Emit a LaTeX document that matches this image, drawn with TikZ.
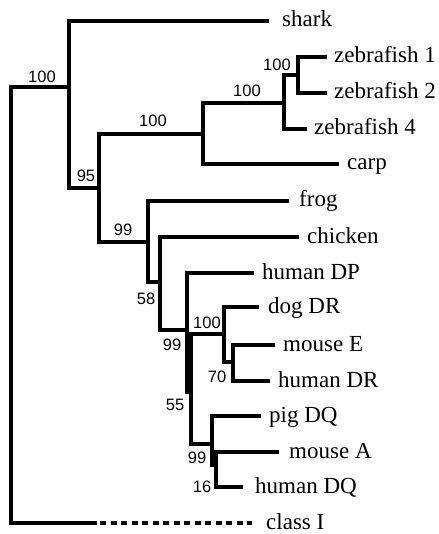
\documentclass[tikz,border=0pt]{standalone}
\usepackage{fontspec}
\setmainfont{Liberation Serif}
\newfontfamily\supportfont{Liberation Sans}
\begin{document}
\begin{tikzpicture}[x=1pt,y=-1pt,
  branch/.style={line width=3.2pt,line cap=rect,line join=miter},
  taxon/.style={anchor=base west,inner sep=0pt,font=\fontsize{23}{27}\selectfont},
  support/.style={inner sep=0pt,font=\supportfont\fontsize{16.5}{18}\selectfont}]
\useasboundingbox (0,0) rectangle (438,534);

% internal nodes: x of the vertical bar, y of the branch leading into it
\coordinate (R) at (11,87);
\coordinate (A) at (69,87);
\coordinate (B) at (99,188);
\coordinate (C) at (203,134);
\coordinate (D) at (284,103);
\coordinate (E) at (298,75);
\coordinate (F) at (148,242);
\coordinate (G) at (160,282);
\coordinate (H) at (187,330);
\coordinate (I) at (191,392);
\coordinate (J) at (224,334);
\coordinate (K) at (233,362);
\coordinate (L) at (212,444);
\coordinate (M) at (216,465);

% tips of the terminal branches
\coordinate (tShark) at (267,21);
\coordinate (tZ1) at (325,57);
\coordinate (tZ2) at (325,93);
\coordinate (tZ4) at (305,129);
\coordinate (tCarp) at (337,164);
\coordinate (tFrog) at (287,201);
\coordinate (tChick) at (297,237);
\coordinate (tHDP) at (252,273);
\coordinate (tDog) at (257,307);
\coordinate (tMsE) at (273,345);
\coordinate (tHDR) at (268,381);
\coordinate (tPig) at (259,416);
\coordinate (tMsA) at (277,452);
\coordinate (tHDQ) at (241,487);
\coordinate (cSolid) at (95,523);
\coordinate (tClass) at (252,523);

% taxon labels
\node[taxon] (shark) at (282,27) {shark};
\node[taxon] (z1) at (334,63) {zebrafish 1};
\node[taxon] (z2) at (334,99) {zebrafish 2};
\node[taxon] (z4) at (314,135) {zebrafish 4};
\node[taxon] (carp) at (347,170) {carp};
\node[taxon] (frog) at (299,207) {frog};
\node[taxon] (chick) at (307,243) {chicken};
\node[taxon] (hdp) at (262,279) {human DP};
\node[taxon] (dog) at (268,313) {dog DR};
\node[taxon] (mse) at (283,351) {mouse E};
\node[taxon] (hdr) at (278,387) {human DR};
\node[taxon] (pig) at (269,422) {pig DQ};
\node[taxon] (msa) at (289,458) {mouse A};
\node[taxon] (hdq) at (255,493) {human DQ};
\node[taxon] (cls) at (266,529) {class I};

% branches
\draw[branch] (R) -- (A);
\draw[branch] (R) |- (cSolid);
\draw[branch,line cap=butt,dash pattern=on 6pt off 4.5pt] (cSolid) ++(5,0) -- (tClass);
\draw[branch] (A) |- (tShark);
\draw[branch] (A) |- (B);
\draw[branch] (B) |- (C);
\draw[branch] (B) |- (F);
\draw[branch] (C) |- (D);
\draw[branch] (C) |- (tCarp);
\draw[branch] (D) |- (E);
\draw[branch] (D) |- (tZ4);
\draw[branch] (E) |- (tZ1);
\draw[branch] (E) |- (tZ2);
\draw[branch] (F) |- (tFrog);
\draw[branch] (F) |- (G);
\draw[branch] (G) |- (tChick);
\draw[branch] (G) |- (H);
\draw[branch] (H) |- (tHDP);
\draw[branch] (H) |- (I);
\draw[branch] (I) |- (J);
\draw[branch] (I) |- (L);
\draw[branch] (J) |- (tDog);
\draw[branch] (J) |- (K);
\draw[branch] (K) |- (tMsE);
\draw[branch] (K) |- (tHDR);
\draw[branch] (L) |- (tPig);
\draw[branch] (L) |- (M);
\draw[branch] (M) |- (tMsA);
\draw[branch] (M) |- (tHDQ);

% bootstrap values
\node[support] (sA) at (42,77) {100};
\node[support] (sB) at (86,176) {95};
\node[support] (sC) at (153,121) {100};
\node[support] (sD) at (247,91) {100};
\node[support] (sE) at (277,65) {100};
\node[support] (sF) at (123,230) {99};
\node[support] (sG) at (146,299) {58};
\node[support] (sH) at (172,345) {99};
\node[support] (sJ) at (207,323) {100};
\node[support] (sI) at (175,405) {55};
\node[support] (sK) at (217,377) {70};
\node[support] (sL) at (197,458) {99};
\node[support] (sM) at (202,487) {16};
\end{tikzpicture}
\end{document}
